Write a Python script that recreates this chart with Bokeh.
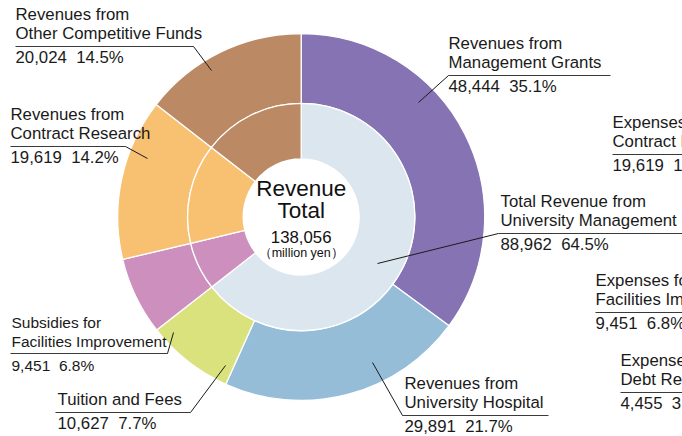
import math
from bokeh.plotting import figure
from bokeh.models import Range1d, ColumnDataSource
from bokeh.core.properties import value
from bokeh.embed import file_html
from bokeh.resources import INLINE

# ---------------- data ----------------
categories = ["Revenues from Management Grants", "Revenues from University Hospital",
              "Tuition and Fees", "Subsidies for Facilities Improvement",
              "Revenues from Contract Research", "Revenues from Other Competitive Funds"]
values = [48444, 29891, 10627, 9451, 19619, 20024]
percents = [35.1, 21.7, 7.7, 6.8, 14.2, 14.5]
colors = ["#8573b3", "#95bdd7", "#d9e27d", "#cc8fbe", "#f8c172", "#bb8a65"]

inner_categories = ["Total Revenue from University Management",
                    "Subsidies for Facilities Improvement",
                    "Revenues from Contract Research",
                    "Revenues from Other Competitive Funds"]
inner_values = [values[0] + values[1] + values[2], values[3], values[4], values[5]]
inner_percents = [64.5, 6.8, 14.2, 14.5]
inner_colors = ["#dce6ee", "#cc8fbe", "#f8c172", "#bb8a65"]

total_value = 138056

# labels of the neighbouring (cut-off) expenses chart
exp_lines = [["Expenses for", "Contract Research"],
             ["Expenses for", "Facilities Improvement"],
             ["Expenses for", "Debt Repayment"]]
exp_values = [19619, 9451, 4455]
exp_percents = [14.2, 6.8, 3.2]

# ---------------- layout ----------------
W, H = 682, 436
FONT = value("Liberation Sans")
CX, CY = 300.7, 216.5            # screen pixels
R_OUT, R_MID, R_IN = 183.5, 113.6, 58
SP = "\u00a0\u00a0"
BASE_FIX = 0.33                  # empirical baseline correction (x font size)


def sy(y):
    return H - y


def ty_of(baseline, fs):
    return sy(baseline - BASE_FIX * fs)


p = figure(width=W, height=H, x_range=Range1d(0, W), y_range=Range1d(0, H),
           output_backend="svg", toolbar_location=None, min_border=0,
           background_fill_color="white", border_fill_color="white")
p.axis.visible = False
p.grid.visible = False
p.outline_line_color = None


def ring(vals, cols, r0, r1):
    tot = sum(vals)
    starts, ends = [], []
    c = 0.0
    for v in vals:
        starts.append(math.pi / 2 - 2 * math.pi * c / tot)
        c += v
        ends.append(math.pi / 2 - 2 * math.pi * c / tot)
    src = ColumnDataSource(dict(s=starts, e=ends, c=cols))
    p.annular_wedge(x=CX, y=sy(CY), inner_radius=r0, outer_radius=r1,
                    start_angle="s", end_angle="e", direction="clock",
                    fill_color="c", line_color="white", line_width=1.3, source=src)


ring(values, colors, R_MID, R_OUT)
ring(inner_values, inner_colors, R_IN, R_MID)

name_lines = {
    0: ["Revenues from", "Management Grants"],
    1: ["Revenues from", "University Hospital"],
    2: ["Tuition and Fees"],
    3: ["Subsidies for", "Facilities Improvement"],
    4: ["Revenues from", "Contract Research"],
    5: ["Revenues from", "Other Competitive Funds"],
}
layout = {
    0: dict(x=448, y=49, u0=448, u1=610, end=(418, 102), right=False, fs=16.8),
    1: dict(x=404, y=389, u0=402, u1=548, end=(372, 362), right=False, fs=16.8),
    2: dict(x=57, y=405, u0=55, u1=190, end=(225, 365), right=True, fs=16.8),
    3: dict(x=11, y=327, u0=10, u1=167, end=(173, 332), right=True, fs=15.5),
    4: dict(x=10, y=120, u0=10, u1=125, end=(147, 158), right=True, fs=16.8),
    5: dict(x=15, y=20, u0=15, u1=193, end=(211, 70), right=True, fs=16.8),
}

LS = 19
tx, ty, tt, tfs = [], [], [], []
ux0, uy0, ux1, uy1 = [], [], [], []
lx0, ly0, lx1, ly1 = [], [], [], []


def add_label(lines, val, pct, L):
    y = L["y"]
    fs = L["fs"]
    for k, ln in enumerate(lines):
        tx.append(L["x"]); ty.append(ty_of(y + k * LS, fs)); tt.append(ln); tfs.append(f"{fs}px")
    ul = y + (len(lines) - 1) * LS + 7
    tx.append(L["x"]); ty.append(ty_of(ul + 17, fs)); tt.append(f"{val:,}{SP}{pct:.1f}%"); tfs.append(f"{fs}px")
    ux0.append(L["u0"]); ux1.append(L["u1"]); uy0.append(sy(ul)); uy1.append(sy(ul))
    if L.get("end") is not None:
        sx = L["u1"] if L["right"] else L["u0"]
        lx0.append(sx); ly0.append(sy(ul)); lx1.append(L["end"][0]); ly1.append(sy(L["end"][1]))


for i in range(len(values)):
    add_label(name_lines[i], values[i], percents[i], layout[i])

add_label(["Total Revenue from", "University Management"], inner_values[0], inner_percents[0],
          dict(x=500, y=207, u0=498, u1=690, end=(377, 263), right=False, fs=16.8))

exp_layout = [dict(x=612, y=128, u0=612, u1=690, end=None, right=False, fs=16.8),
              dict(x=595, y=286, u0=595, u1=690, end=None, right=False, fs=16.8),
              dict(x=620, y=366, u0=620, u1=690, end=None, right=False, fs=16.8)]
for lines, v, pc, L in zip(exp_lines, exp_values, exp_percents, exp_layout):
    add_label(lines, v, pc, L)

p.segment(x0=ux0, y0=uy0, x1=ux1, y1=uy1, line_color="#3a3a3a", line_width=1.1)
p.segment(x0=lx0, y0=ly0, x1=lx1, y1=ly1, line_color="#1a1a1a", line_width=1)

p.text(x="x", y="y", text="t", text_font_size="fs",
       source=ColumnDataSource(dict(x=tx, y=ty, t=tt, fs=tfs)),
       text_font=FONT, text_color="#1a1a1a", text_align="left", text_baseline="alphabetic")

# centre texts
p.text(x=[CX, CX], y=[ty_of(195, 22.5), ty_of(217, 22.5)], text=["Revenue", "Total"], text_font=FONT,
       text_font_size="22.5px", text_color="#111111", text_align="center", text_baseline="alphabetic")
p.text(x=[CX], y=[ty_of(242, 16.8)], text=[f"{total_value:,}"], text_font=FONT,
       text_font_size="16.8px", text_color="#111111", text_align="center", text_baseline="alphabetic")
p.text(x=[CX], y=[ty_of(257, 12.5)], text=["（million yen）"], text_font=FONT,
       text_font_size="12.5px", text_color="#111111", text_align="center", text_baseline="alphabetic")

open("out.html", "w").write(file_html(p, INLINE))
